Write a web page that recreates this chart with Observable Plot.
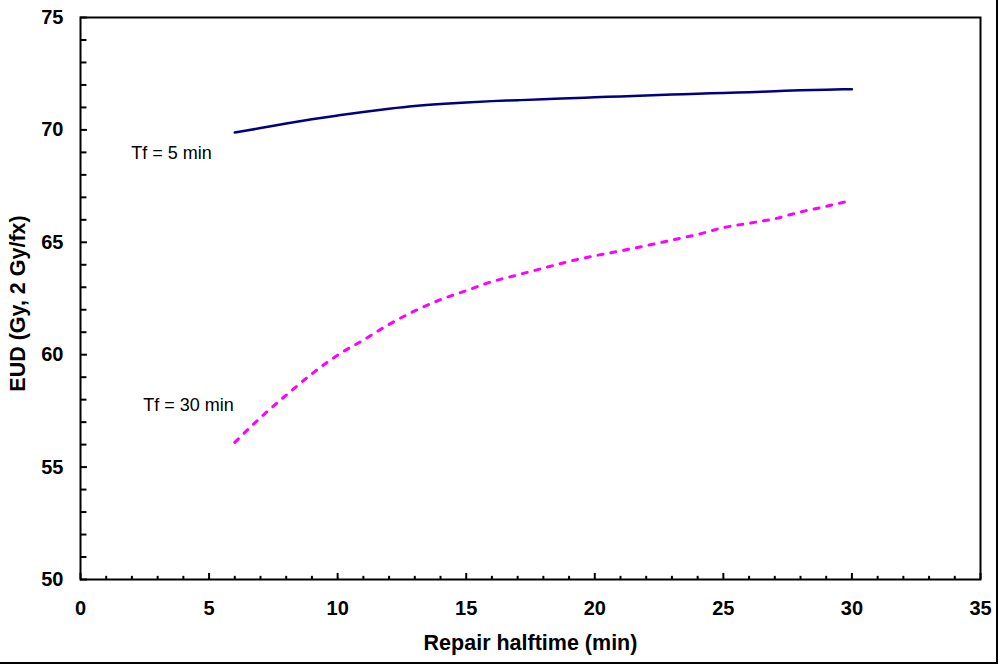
<!DOCTYPE html>
<html>
<head>
<meta charset="utf-8">
<script src="https://cdn.jsdelivr.net/npm/d3@7"></script>
<script src="https://cdn.jsdelivr.net/npm/@observablehq/plot@0.6"></script>
<style>
  html, body { margin: 0; padding: 0; background: white; }
  #wrap { width: 996px; height: 662px; border-right: 2px solid black; border-bottom: 2px solid black; overflow: hidden; background: white; }
  #wrap svg { display: block; }
</style>
</head>
<body>
<div id="wrap"></div>
<script>
// Repair halftime (min)
const halftime = [6,7,8,9,10,11,12,13,14,15,16,17,18,19,20,21,22,23,24,25,26,27,28,29,30];
// EUD for Tf = 5 min
const eudTf5 = [69.88,70.08,70.28,70.47,70.64,70.80,70.94,71.06,71.15,71.22,71.28,71.32,71.36,71.41,71.45,71.49,71.53,71.57,71.61,71.64,71.68,71.72,71.76,71.79,71.81];
// EUD for Tf = 30 min
const eudTf30 = [56.1,57.2,58.2,59.15,59.98,60.65,61.35,61.95,62.45,62.85,63.25,63.55,63.85,64.15,64.4,64.62,64.85,65.1,65.35,65.65,65.85,66.05,66.35,66.6,66.87];
const seriesNames = ["Tf = 5 min", "Tf = 30 min"];

const xMajor = [0,5,10,15,20,25,30,35];
const xMinor = d3.range(0, 36).filter(v => v % 5 !== 0);
const yMajor = [50,55,60,65,70,75];
const yMinor = d3.range(50, 76).filter(v => v % 5 !== 0);

const s5 = halftime.map((x, i) => ({x, y: eudTf5[i]}));
const s30 = halftime.map((x, i) => ({x, y: eudTf30[i]}));

const chart = Plot.plot({
  width: 996,
  height: 662,
  marginLeft: 80,
  marginRight: 16,
  marginTop: 17,
  marginBottom: 83,
  x: {domain: [0, 35]},
  y: {domain: [50, 75]},
  style: {fontFamily: "'Liberation Sans', Arial, sans-serif", background: "white", color: "black"},
  marks: [
    // inward ticks
    Plot.ruleX(xMajor, {x: d => d, y1: 50, y2: 50 + 0.27, stroke: "black", strokeWidth: 2}),
    Plot.ruleX(xMinor, {x: d => d, y1: 50, y2: 50 + 0.14, stroke: "black", strokeWidth: 2}),
    Plot.ruleY(yMajor, {y: d => d, x1: 0, x2: 0.27, stroke: "black", strokeWidth: 2}),
    Plot.ruleY(yMinor, {y: d => d, x1: 0, x2: 0.25, stroke: "black", strokeWidth: 2}),
    Plot.axisX(xMajor, {tickSize: 0, tickPadding: 21, label: null, fontSize: 20, fontWeight: "bold"}),
    Plot.axisY(yMajor, {tickSize: 0, tickPadding: 17, label: null, fontSize: 20, fontWeight: "bold"}),
    Plot.frame({stroke: "black", strokeWidth: 2}),
    Plot.line(s5, {x: "x", y: "y", stroke: "#000080", strokeWidth: 2.5, curve: "monotone-x"}),
    Plot.line(s30, {x: "x", y: "y", stroke: "#FF00FF", strokeWidth: 3, strokeDasharray: "5,8", curve: "monotone-x"}),
    Plot.text([s5[0]], {x: "x", y: "y", text: () => seriesNames[0], textAnchor: "end", dx: -23, dy: 21, fontSize: 18, fill: "black"}),
    Plot.text([s30[0]], {x: "x", y: "y", text: () => seriesNames[1], textAnchor: "end", dx: -1, dy: -37, fontSize: 18, fill: "black"}),
    Plot.text(["Repair halftime (min)"], {frameAnchor: "bottom", dy: 70, fontSize: 21.5, fontWeight: "bold", fill: "black"}),
    Plot.text(["EUD (Gy, 2 Gy/fx)"], {frameAnchor: "left", textAnchor: "middle", rotate: -90, dx: -62, dy: 5, fontSize: 21.5, fontWeight: "bold", fill: "black"})
  ]
});
document.getElementById("wrap").appendChild(chart);
</script>
</body>
</html>
